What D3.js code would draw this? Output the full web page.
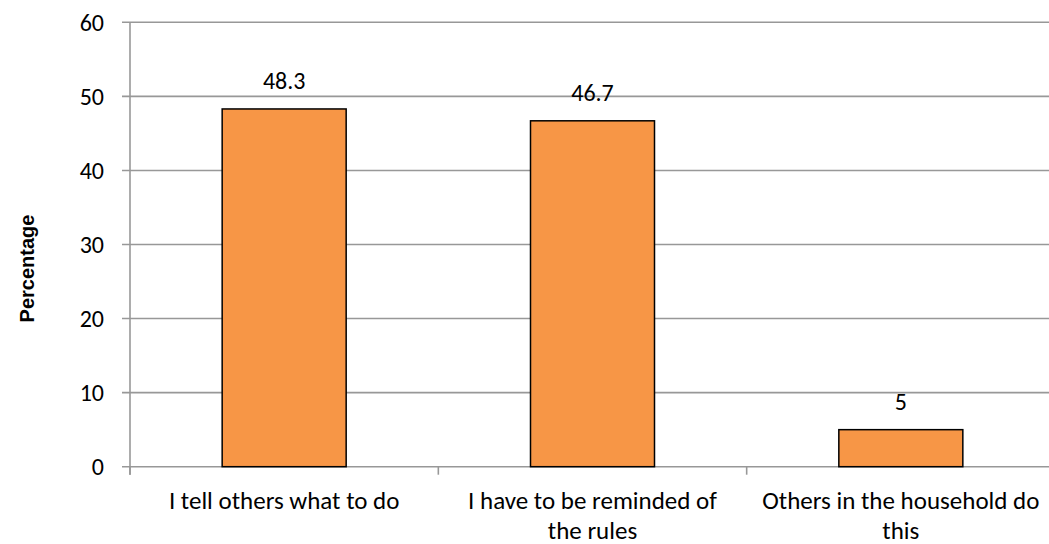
<!DOCTYPE html>
<html>
<head>
<meta charset="utf-8">
<script src="https://cdn.jsdelivr.net/npm/d3@7"></script>
<style>
  html, body { margin: 0; padding: 0; background: #fff; }
  svg { display: block; }
</style>
</head>
<body>
<svg id="chart" width="1049" height="544"></svg>
<script>
const categories = ["I tell others what to do", "I have to be reminded of the rules", "Others in the household do this"];
const values = [48.3, 46.7, 5];
const valueLabels = ["48.3", "46.7", "5"];
const yTicks = [0, 10, 20, 30, 40, 50, 60];
const yTitle = "Percentage";

const svg = d3.select("#chart");
const margin = { left: 130, top: 22.3, right: -6, bottom: 77.3 };
const W = 1049, H = 544;
const x0 = margin.left, x1 = W - margin.right;
const yTop = margin.top, yBot = H - margin.bottom;

const x = d3.scaleBand().domain(categories).range([x0, x1]).paddingInner(0).paddingOuter(0);
const y = d3.scaleLinear().domain([0, 60]).range([yBot, yTop]);

const gridColor = "#989898";
const font = "Carlito, Calibri, Lato, sans-serif";

// gridlines
svg.append("g").selectAll("line").data(yTicks).join("line")
  .attr("x1", x0 - 8).attr("x2", x1)
  .attr("y1", d => y(d)).attr("y2", d => y(d))
  .attr("stroke", gridColor).attr("stroke-width", 1.6);

// y axis line
svg.append("line").attr("x1", x0).attr("x2", x0).attr("y1", yTop).attr("y2", yBot + 8)
  .attr("stroke", gridColor).attr("stroke-width", 1.6);

// category ticks
const bounds = categories.map(c => x(c)).concat([x1]);
svg.append("g").selectAll("line").data(bounds).join("line")
  .attr("x1", d => d).attr("x2", d => d)
  .attr("y1", yBot).attr("y2", yBot + 8)
  .attr("stroke", gridColor).attr("stroke-width", 1.6);

// y tick labels
svg.append("g").selectAll("text").data(yTicks).join("text")
  .attr("x", 104).attr("y", d => y(d)).attr("dy", "0.36em")
  .attr("text-anchor", "end")
  .attr("font-family", font).attr("font-size", 24).attr("fill", "#000")
  .text(d => d);

// bars
const barW = 124;
svg.append("g").selectAll("rect").data(values).join("rect")
  .attr("x", (d, i) => x(categories[i]) + x.bandwidth() / 2 - barW / 2)
  .attr("y", d => y(d))
  .attr("width", barW)
  .attr("height", d => y(0) - y(d))
  .attr("fill", "#F79646")
  .attr("stroke", "#000").attr("stroke-width", 1.5);

// value labels
svg.append("g").selectAll("text").data(values).join("text")
  .attr("x", (d, i) => x(categories[i]) + x.bandwidth() / 2)
  .attr("y", d => y(d) - 20)
  .attr("text-anchor", "middle")
  .attr("font-family", font).attr("font-size", 24).attr("fill", "#000")
  .text((d, i) => valueLabels[i]);

// category labels with wrapping
const labelG = svg.append("g");
categories.forEach(c => {
  const cx = x(c) + x.bandwidth() / 2;
  const t = labelG.append("text")
    .attr("x", cx)
    .attr("y", 509)
    .attr("text-anchor", "middle")
    .attr("font-family", font).attr("font-size", 25).attr("fill", "#000");
  const words = c.split(" ");
  const maxW = 284;
  let line = [];
  let tspan = t.append("tspan").attr("x", cx).attr("dy", 0);
  words.forEach(w => {
    line.push(w);
    tspan.text(line.join(" "));
    if (tspan.node().getComputedTextLength() > maxW && line.length > 1) {
      line.pop();
      tspan.text(line.join(" "));
      line = [w];
      tspan = t.append("tspan").attr("x", cx).attr("dy", 30).text(w);
    }
  });
});

// y axis title
svg.append("text")
  .attr("transform", `translate(34, ${(yTop + yBot) / 2 + 24}) rotate(-90)`)
  .attr("text-anchor", "middle")
  .attr("font-family", "Liberation Sans, Arial, sans-serif")
  .attr("font-weight", "bold").attr("font-size", 20).attr("fill", "#000")
  .text(yTitle);
</script>
</body>
</html>
